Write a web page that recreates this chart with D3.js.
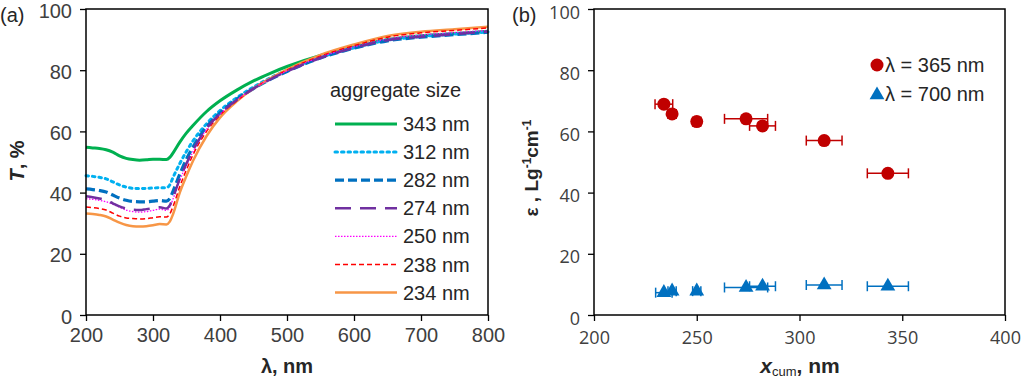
<!DOCTYPE html>
<html><head><meta charset="utf-8">
<script src="https://cdn.jsdelivr.net/npm/d3@7"></script>
<style>body{margin:0;background:#fff;}svg{display:block;font-family:"Liberation Sans",Arial,sans-serif;}</style>
</head><body><svg id="c" width="1024" height="381"></svg>
<script>
const lambdas = [200,210,220,230,240,250,260,270,280,290,300,310,320,325,330,340,350,360,380,400,425,450,475,500,550,600,650,700,750,800];
const T343 = [54.8,54.6,54.4,54.0,53.2,52.0,51.2,50.8,50.6,50.7,50.9,50.9,50.8,51.5,53.0,56.5,59.5,62.0,66.5,70.0,73.5,76.5,79.0,81.2,84.8,87.5,90.0,91.3,92.0,92.7];
const T312 = [45.5,45.3,45.0,44.5,43.5,42.5,41.8,41.4,41.3,41.4,41.5,41.6,41.6,42.5,45.0,49.5,53.5,57.0,62.5,66.8,71.0,74.5,77.5,80.0,84.2,87.3,89.8,91.0,91.8,92.5];
const T282 = [41.2,41.0,40.7,40.2,39.2,38.2,37.5,37.1,37.0,37.0,37.2,37.4,37.2,38.0,40.5,46.0,51.0,55.0,61.5,66.0,70.5,74.0,77.0,79.6,84.0,87.2,89.6,90.8,91.6,92.4];
const T274 = [38.8,38.5,38.1,37.5,36.5,35.5,34.8,34.4,34.3,34.6,34.9,35.2,34.8,35.8,38.5,44.5,49.5,54.0,61.0,65.8,70.3,74.0,77.0,79.6,84.0,87.3,89.8,90.9,91.8,92.6];
const T250 = [38.0,37.8,37.5,37.0,36.2,35.2,34.3,33.8,33.6,33.8,34.2,34.6,34.2,35.2,38.0,44.0,49.0,53.5,60.7,65.6,70.2,74.0,77.1,79.8,84.3,87.6,90.2,91.5,92.3,93.0];
const T238 = [35.3,35.1,34.8,34.3,33.3,32.3,31.7,31.5,31.4,31.5,31.8,32.1,32.0,33.0,35.5,42.0,47.5,52.5,60.0,65.3,70.0,74.0,77.2,80.0,84.6,88.0,90.8,92.2,93.0,93.8];
const T234 = [33.2,33.0,32.7,32.2,31.2,30.2,29.4,29.0,28.9,29.0,29.3,29.7,29.6,30.5,33.0,40.0,45.5,50.5,58.5,64.5,69.8,74.0,77.3,80.2,85.0,88.4,91.2,92.6,93.4,94.2];
const sizeLabels = ["343 nm","312 nm","282 nm","274 nm","250 nm","238 nm","234 nm"];
const seriesT = [T343,T312,T282,T274,T250,T238,T234];

const xcum = [234,238,250,274,282,312,343];
const xErr = [4.3,2.0,2.0,10.5,6.3,8.7,10.0];
const eps365 = [68.9,65.7,63.2,64.1,61.8,57.0,46.3];
const eps700 = [7.3,7.8,7.8,9.0,9.4,9.8,9.4];
const xErr700 = [4.0,2.0,2.0,10.5,6.3,8.7,10.0];
const legendB = ["λ = 365 nm","λ = 700 nm"];

const ticksA_x = [200,300,400,500,600,700,800];
const ticksY = [0,20,40,60,80,100];
const ticksB_x = [200,250,300,350,400];

const svg = d3.select("#c");
const tickColor = "#404040";
const txt = "#262626";
const styles = [
  {c:"#00B050", w:3, d:null},
  {c:"#00B0F0", w:3, d:"2.5,4"},
  {c:"#0070C0", w:3.2, d:"9,4"},
  {c:"#7030A0", w:2.5, d:"16,9"},
  {c:"#FF00FF", w:1.3, d:"1.5,1.5"},
  {c:"#FF0000", w:1.5, d:"5,3"},
  {c:"#F79646", w:2.5, d:null}
];

function frame(g, x, y, xt, yt, fam, fs, padX, ydy){
  g.append("g").attr("transform",`translate(0,${y.range()[0]})`)
    .call(d3.axisBottom(x).tickValues(xt).tickSize(6).tickSizeOuter(0).tickPadding(padX))
    .call(a=>{a.select(".domain").remove();a.selectAll("line").attr("stroke","#000").attr("stroke-width",1.3);a.selectAll("text").attr("font-size",fs).attr("font-family",fam).attr("fill",tickColor);});
  g.append("g").attr("transform",`translate(${x.range()[0]},0)`)
    .call(d3.axisLeft(y).tickValues(yt).tickSize(6).tickSizeOuter(0).tickPadding(8))
    .call(a=>{a.select(".domain").remove();a.selectAll("line").attr("stroke","#000").attr("stroke-width",1.3);a.selectAll("text").attr("font-size",fs).attr("font-family",fam).attr("fill",tickColor).attr("dy",ydy);});
  g.append("rect").attr("x",x.range()[0]).attr("y",y.range()[1])
    .attr("width",x.range()[1]-x.range()[0]).attr("height",y.range()[0]-y.range()[1])
    .attr("fill","none").attr("stroke","#000").attr("stroke-width",1.5);
}

// Panel A
const xA = d3.scaleLinear().domain([200,800]).range([86,488]);
const yA = d3.scaleLinear().domain([0,100]).range([315,9]);
const gA = svg.append("g");
const line = d3.line().x((d,i)=>xA(lambdas[i])).y(d=>yA(d)).curve(d3.curveMonotoneX);
const order = [0,1,2,6,5,4,3];
order.forEach(k=>{
  const s = styles[k];
  gA.append("path").attr("d",line(seriesT[k])).attr("fill","none")
    .attr("stroke",s.c).attr("stroke-width",s.w).attr("stroke-dasharray",s.d)
    .attr("stroke-linecap", k===1?"round":"butt");
});
frame(gA,xA,yA,ticksA_x,ticksY,"Liberation Sans, Arial, sans-serif",20,7,"0.4em");
gA.append("text").attr("x",330).attr("y",97).attr("font-size",20).attr("fill",txt).text("aggregate size");
sizeLabels.forEach((lab,i)=>{
  const yy = 124 + i*28.1;
  const s = styles[i];
  gA.append("line").attr("x1",335).attr("x2",397).attr("y1",yy).attr("y2",yy)
    .attr("stroke",s.c).attr("stroke-width",s.w).attr("stroke-dasharray",s.d)
    .attr("stroke-linecap", i===1?"round":"butt");
  gA.append("text").attr("x",403).attr("y",yy+7).attr("font-size",20).attr("fill",txt).text(lab);
});
svg.append("text").attr("x",0).attr("y",22).attr("font-size",20).attr("fill",txt).text("(a)");
svg.append("text").attr("transform","translate(24,161) rotate(-90)").attr("text-anchor","middle")
  .attr("font-size",20).attr("font-weight","bold").attr("fill",txt)
  .call(t=>{t.append("tspan").attr("font-style","italic").text("T");t.append("tspan").text(", %");});
svg.append("text").attr("x",287).attr("y",373).attr("text-anchor","middle").attr("font-size",20)
  .attr("font-weight","bold").attr("fill",txt).text("λ, nm");

// Panel B
const xB = d3.scaleLinear().domain([200,400]).range([594,1005]);
const yB = d3.scaleLinear().domain([0,100]).range([315,9]);
const gB = svg.append("g");
frame(gB,xB,yB,ticksB_x,ticksY,"Open Sans, sans-serif",18,10,"0.5em");
const red = "#C00000", blue = "#0070C0";
function errbars(vals, errs, col){
  xcum.forEach((xv,i)=>{
    const y = yB(vals[i]), x1 = xB(xv-errs[i]), x2 = xB(xv+errs[i]);
    gB.append("line").attr("x1",x1).attr("x2",x2).attr("y1",y).attr("y2",y).attr("stroke",col).attr("stroke-width",1.5);
    [x1,x2].forEach(xx=>gB.append("line").attr("x1",xx).attr("x2",xx).attr("y1",y-5).attr("y2",y+5).attr("stroke",col).attr("stroke-width",1.5));
  });
}
errbars(eps365,xErr,red);
errbars(eps700,xErr700,blue);
const tri = d3.symbol().type(d3.symbolTriangle).size(95);
xcum.forEach((xv,i)=>{
  gB.append("circle").attr("cx",xB(xv)).attr("cy",yB(eps365[i])).attr("r",6.5).attr("fill",red);
  gB.append("path").attr("d",tri()).attr("transform",`translate(${xB(xv)},${yB(eps700[i])})`).attr("fill",blue);
});
gB.append("circle").attr("cx",877).attr("cy",65).attr("r",6.5).attr("fill",red);
gB.append("path").attr("d",tri()).attr("transform","translate(877,95)").attr("fill",blue);
gB.append("text").attr("x",885).attr("y",72).attr("font-size",20).attr("fill",txt).text(legendB[0]);
gB.append("text").attr("x",885).attr("y",101).attr("font-size",20).attr("fill",txt).text(legendB[1]);
svg.append("text").attr("x",512).attr("y",22).attr("font-size",20).attr("fill",txt).text("(b)");
svg.append("text").attr("transform","translate(538,168) rotate(-90)").attr("text-anchor","middle")
  .attr("font-size",19).attr("font-weight","bold").attr("fill",txt)
  .call(t=>{
    t.append("tspan").text("ε , Lg");
    t.append("tspan").attr("font-size",12).attr("dy",-7).text("-1");
    t.append("tspan").attr("dy",7).text("cm");
    t.append("tspan").attr("font-size",12).attr("dy",-7).text("-1");
  });
svg.append("text").attr("x",800).attr("y",373).attr("text-anchor","middle").attr("font-size",21)
  .attr("font-weight","bold").attr("fill",txt)
  .call(t=>{
    t.append("tspan").attr("font-style","italic").text("x");
    t.append("tspan").attr("font-size",13).attr("font-weight","normal").attr("dy",3).text("cum");
    t.append("tspan").attr("dy",-3).text(", nm");
  });
</script></body></html>
